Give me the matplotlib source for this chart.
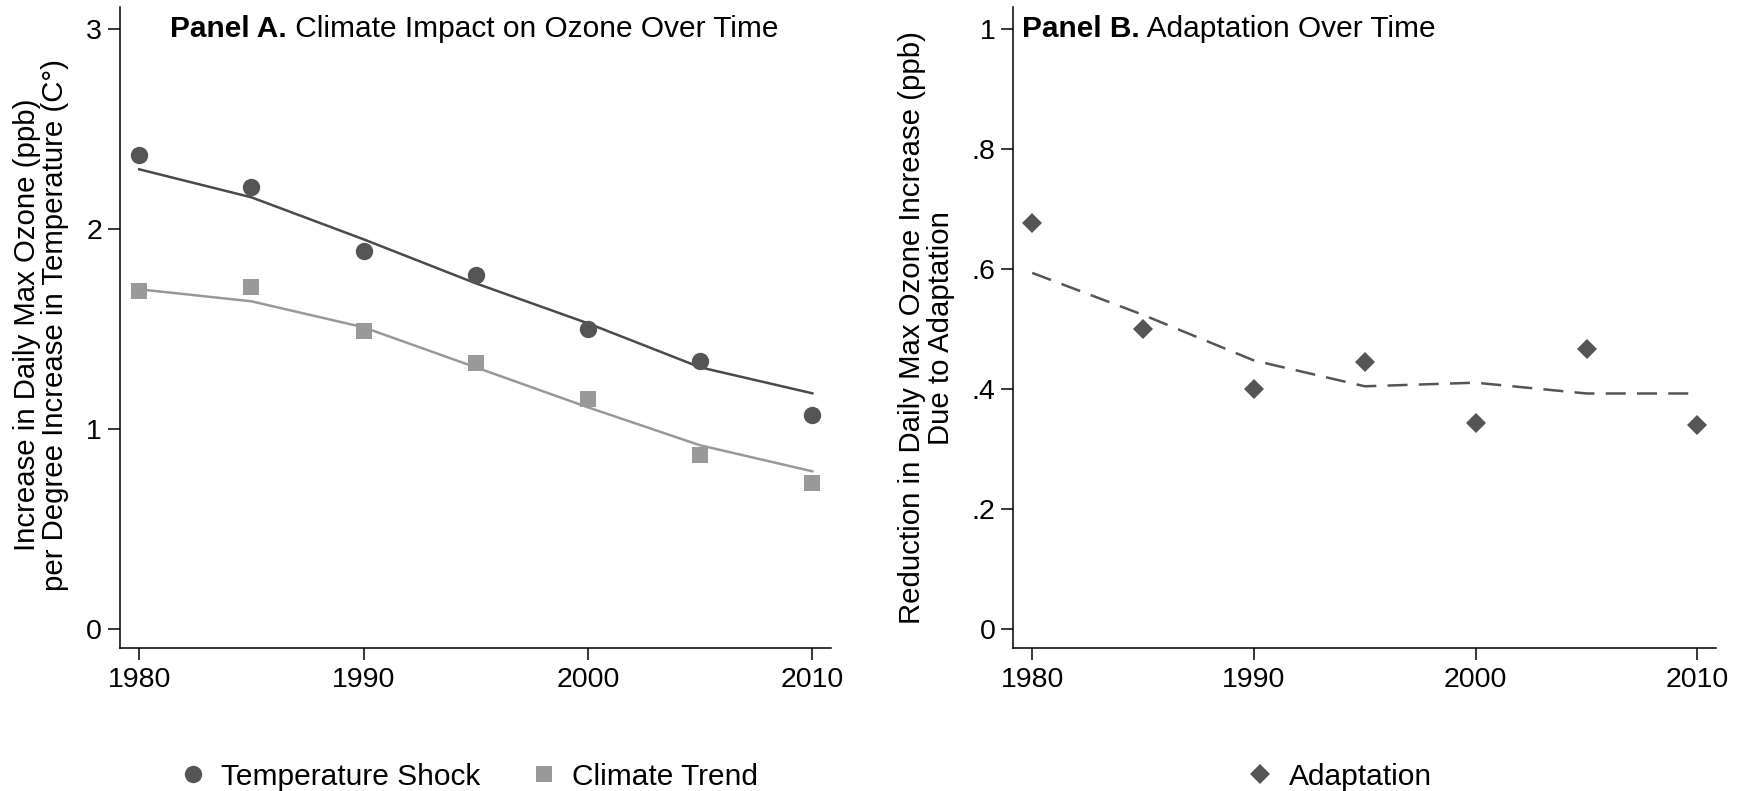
import matplotlib
matplotlib.use("Agg")
import matplotlib.pyplot as plt
from matplotlib.lines import Line2D

plt.rcParams['font.family'] = ['Liberation Sans', 'DejaVu Sans']

years = [1980, 1985, 1990, 1995, 2000, 2005, 2010]

# Panel A
temp_shock = [2.37, 2.21, 1.89, 1.77, 1.50, 1.34, 1.07]
temp_fit = [2.30, 2.16, 1.95, 1.73, 1.53, 1.31, 1.18]
climate_trend = [1.69, 1.71, 1.49, 1.33, 1.15, 0.87, 0.73]
trend_fit = [1.70, 1.64, 1.51, 1.31, 1.11, 0.92, 0.79]

# Panel B
adaptation = [0.677, 0.500, 0.400, 0.445, 0.344, 0.467, 0.341]
adapt_fit = [0.594, 0.524, 0.448, 0.405, 0.411, 0.393, 0.393]

dark = '#555555'
light = '#999999'
tick_fs = 20.5
title_fs = 21.5
lab_fs = 21.2
leg_fs = 21.5

fig = plt.figure(figsize=(17.4, 7.91), dpi=100)
axA = fig.add_axes([0.0690, 0.1804, 0.4084, 0.8104])
axB = fig.add_axes([0.5824, 0.1804, 0.4036, 0.8104])


def style(ax):
    for s in ['top', 'right']:
        ax.spines[s].set_visible(False)
    for s in ['left', 'bottom']:
        ax.spines[s].set_linewidth(1.1)
    ax.tick_params(axis='both', direction='out', length=8.5, width=1.1,
                   labelsize=tick_fs, color='black')
    ax.tick_params(axis='y', pad=4.5)
    ax.tick_params(axis='x', pad=5)
    ax.set_xticks([1980, 1990, 2000, 2010])
    ax.set_xlim(1979.15, 2010.82)


def title(ax, x, bold, rest):
    t = ax.text(x, 0.953, bold, transform=ax.transAxes, fontsize=title_fs,
                fontweight='bold', va='baseline', ha='left')
    ax.annotate(rest, xy=(1, 0), xycoords=t, va='bottom', ha='left',
                fontsize=title_fs)


# Panel A
style(axA)
axA.plot(years, temp_fit, color='#4a4a4a', lw=1.8, zorder=2)
axA.plot(years, trend_fit, color=light, lw=1.8, zorder=2)
axA.plot(years, temp_shock, 'o', color=dark, ms=12.5, mew=0, zorder=3)
axA.plot(years, climate_trend, 's', color=light, ms=12, mew=0, zorder=3)
axA.set_ylim(-0.095, 3.11)
axA.set_yticks([0, 1, 2, 3])
axA.set_ylabel('Increase in Daily Max Ozone (ppb)\nper Degree Increase in Temperature (C°)',
               fontsize=lab_fs, linespacing=1.03)
axA.yaxis.set_label_coords(-0.0715, 0.505)
title(axA, 0.0704, 'Panel A.', ' Climate Impact on Ozone Over Time')

hA = [Line2D([], [], marker='o', ls='none', color=dark, ms=12.5, mew=0),
      Line2D([], [], marker='s', ls='none', color=light, ms=12, mew=0)]
axA.legend(hA, ['Temperature Shock', 'Climate Trend'], loc='center',
           bbox_to_anchor=(0.492, -0.2003), ncol=2, frameon=False,
           fontsize=leg_fs, handlelength=0.8, handletextpad=0.55,
           columnspacing=1.72, numpoints=1)

# Panel B
style(axB)
axB.plot(years, adapt_fit, color=dark, lw=1.8, dashes=(8, 4.5), zorder=2)
axB.plot(years, adaptation, 'D', color=dark, ms=10.5, mew=0, zorder=3)
axB.set_ylim(-0.0317, 1.0367)
axB.set_yticks([0, 0.2, 0.4, 0.6, 0.8, 1.0])
axB.set_yticklabels(['0', '.2', '.4', '.6', '.8', '1'])
axB.set_ylabel('Reduction in Daily Max Ozone Increase (ppb)\nDue to Adaptation',
               fontsize=lab_fs, linespacing=1.03)
axB.yaxis.set_label_coords(-0.083, 0.50)
title(axB, 0.0124, 'Panel B.', ' Adaptation Over Time')

hB = [Line2D([], [], marker='D', ls='none', color=dark, ms=10.5, mew=0)]
axB.legend(hB, ['Adaptation'], loc='center', bbox_to_anchor=(0.465, -0.2003),
           frameon=False, fontsize=leg_fs, handlelength=0.8,
           handletextpad=0.55, numpoints=1)

fig.savefig('out.png', dpi=100, facecolor='white')
